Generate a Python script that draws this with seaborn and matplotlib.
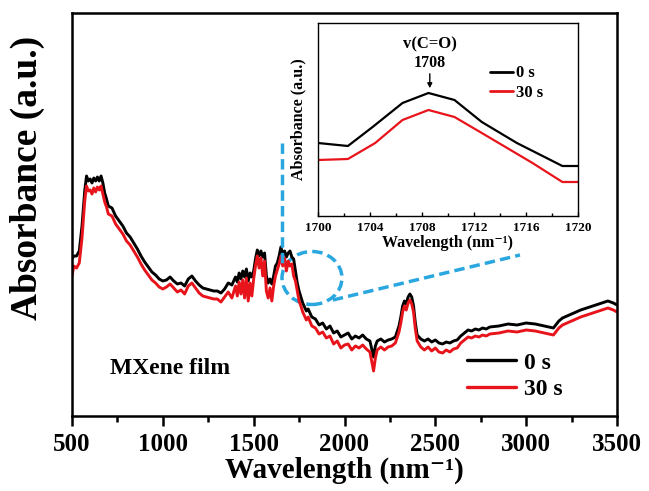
import numpy as np
import pandas as pd
import matplotlib
matplotlib.use("Agg")
import matplotlib.pyplot as plt
from matplotlib.patches import Ellipse
import seaborn as sns

# ---------------- data ----------------
wavelength = [500, 510, 525, 540, 555, 570, 580, 590, 600, 610, 620, 630, 640, 650, 660, 670, 680, 690, 700,
              720, 740, 760, 780, 800, 820, 840, 860, 880, 900, 920, 940, 960, 980, 1000, 1020, 1040, 1060, 1080,
              1100, 1120, 1140, 1160, 1180, 1200, 1220, 1240, 1260, 1280, 1300, 1320, 1340, 1360, 1380, 1400,
              1410, 1420, 1430, 1440, 1450, 1460, 1470, 1480, 1490, 1500, 1510, 1520, 1530, 1540, 1550, 1560,
              1570, 1580, 1590, 1600, 1610, 1620, 1630, 1640, 1650, 1660, 1670, 1680, 1690, 1700, 1710, 1720,
              1730, 1740, 1750, 1760, 1770, 1780, 1790, 1800, 1820, 1840, 1860, 1880, 1900, 1920, 1940, 1960,
              1980, 2000, 2020, 2040, 2060, 2080, 2100, 2120, 2140, 2160, 2170, 2180, 2200, 2220, 2240, 2260,
              2280, 2300, 2310, 2320, 2330, 2340, 2350, 2360, 2370, 2380, 2390, 2400, 2420, 2440, 2460, 2480,
              2500, 2520, 2540, 2560, 2580, 2600, 2620, 2640, 2660, 2680, 2700, 2720, 2740, 2760, 2780, 2800,
              2850, 2900, 2950, 3000, 3050, 3100, 3150, 3180, 3200, 3250, 3300, 3350, 3400, 3450, 3480, 3500]

abs_0s = [157, 160, 160, 165, 190, 225, 240, 235, 237, 233, 238, 235, 239, 235, 240, 233, 223, 217, 210,
          208, 200, 195, 190, 183, 179, 173, 167, 160, 154, 149, 144, 141, 137, 135, 136, 139, 135, 132,
          133, 130, 137, 140, 135, 131, 128, 127, 126, 125, 125, 123, 127, 133, 131, 139,
          134, 143, 137, 145, 139, 147, 135, 143, 139, 145, 157, 166, 160, 165, 159, 163,
          140, 133, 137, 132, 140, 150, 153, 160, 169, 161, 165, 159, 163, 165, 159, 157,
          145, 133, 125, 119, 113, 109, 105, 107, 99, 97, 91, 93, 87, 90, 83, 85,
          79, 81, 83, 77, 80, 78, 81, 77, 75, 59, 70, 75, 77, 74, 76, 77,
          79, 90, 99, 110, 115, 112, 119, 122, 119, 110, 93, 81, 77, 75, 77, 74,
          76, 73, 72, 74, 73, 75, 76, 80, 83, 86, 85, 87, 86, 88, 87, 89,
          90, 92, 91, 93, 92, 90, 88, 95, 98, 102, 106, 109, 112, 115, 113, 111]

abs_30s = [140, 150, 148, 153, 178, 215, 230, 225, 226, 222, 228, 224, 229, 226, 230, 222, 214, 209, 202,
           200, 192, 187, 182, 175, 171, 165, 159, 152, 146, 141, 136, 133, 129, 127, 129, 132, 128, 124,
           126, 122, 130, 133, 128, 123, 120, 119, 118, 117, 117, 114, 119, 124, 118, 130,
           120, 134, 122, 136, 118, 138, 115, 133, 120, 137, 150, 160, 148, 158, 140, 155,
           125, 118, 128, 115, 130, 140, 146, 152, 160, 150, 158, 145, 155, 150, 152, 140,
           135, 125, 115, 110, 104, 100, 96, 99, 90, 88, 82, 84, 78, 80, 72, 75,
           68, 71, 72, 66, 70, 68, 71, 67, 64, 45, 58, 66, 69, 66, 69, 70,
           73, 84, 93, 104, 110, 106, 113, 116, 112, 104, 87, 75, 69, 66, 69, 65,
           68, 64, 63, 66, 64, 67, 68, 73, 76, 79, 78, 80, 79, 81, 80, 82,
           83, 85, 84, 86, 85, 83, 81, 88, 91, 95, 99, 102, 105, 108, 106, 104]

inset_wl_0s = [1700, 1702.3, 1704.2, 1706.5, 1708.5, 1710.5, 1712.6, 1715.3, 1718.8, 1720]
inset_abs_0s = [73, 70, 89, 113, 123, 116, 94, 73, 50, 50]
inset_wl_30s = [1700, 1702.3, 1704.4, 1706.5, 1708.5, 1710.5, 1712.6, 1716.5, 1718.8, 1720]
inset_abs_30s = [56, 57, 73, 96, 106, 99, 83, 53, 34, 34]

main_xticks = [500, 1000, 1500, 2000, 2500, 3000, 3500]
inset_xticks = [1700, 1704, 1708, 1712, 1716, 1720]
series_labels = ["0 s", "30 s"]
series_colors = ["#000000", "#e8141b"]
guide_color = "#2aa7df"

# ---------------- style ----------------
sns.set_style("ticks")
plt.rcParams["font.family"] = ["Liberation Serif", "DejaVu Serif"]
plt.rcParams["font.weight"] = "bold"
plt.rcParams["axes.labelweight"] = "bold"
plt.rcParams["axes.edgecolor"] = "black"
plt.rcParams["axes.labelcolor"] = "black"
plt.rcParams["text.color"] = "black"
plt.rcParams["xtick.color"] = "black"
plt.rcParams["ytick.color"] = "black"

fig = plt.figure(figsize=(6.49, 4.91), dpi=100)
ax = fig.add_axes([72 / 649, 1 - 416 / 491, 545 / 649, 403 / 491])

df = pd.DataFrame({"wl": wavelength, "a0": abs_0s, "a30": abs_30s})
sns.lineplot(data=df, x="wl", y="a0", ax=ax, color=series_colors[0], lw=2.1, label=series_labels[0])
sns.lineplot(data=df, x="wl", y="a30", ax=ax, color=series_colors[1], lw=2.1, label=series_labels[1])

ax.set_xlim(500, 3500)
ax.set_ylim(0, 403)
ax.set_xticks(main_xticks)
ax.set_xticks([750, 1250, 1750, 2250, 2750, 3250], minor=True)
ax.set_yticks([])
ax.tick_params(axis="x", which="major", direction="out", length=7, width=1.8, labelsize=18, pad=5)
ax.tick_params(axis="x", which="minor", direction="out", length=4, width=1.8)
for s in ax.spines.values():
    s.set_linewidth(1.8)
ax.set_xlabel("Wavelength (nm\u207b\u00b9)", fontsize=21, fontweight="bold", labelpad=1)
ax.set_ylabel("Absorbance (a.u.)", fontsize=27, fontweight="bold")
ax.yaxis.set_label_coords(-0.05, 0.59)

ax.text(709, 47, "MXene film", fontsize=17, fontweight="bold", va="center", ha="left")

leg = ax.legend(loc="center left", bbox_to_anchor=(0.724, 0.099), frameon=False,
                prop={"size": 17, "weight": "bold"}, handlelength=2.1, handletextpad=0.35,
                labelspacing=0.2, borderpad=0, borderaxespad=0)
for h in leg.get_lines():
    h.set_linewidth(2.4)

# blue dashed guides
ax.plot([1655, 1655], [273, 152], ls=(0, (3, 1.5)), color=guide_color, lw=2.5)
ax.add_patch(Ellipse((1821, 138), 330, 53, fill=False, ls=(0, (3, 1.5)), ec=guide_color, lw=2.5))
ax.plot([1936, 2966], [116, 161], ls=(0, (3, 1.5)), color=guide_color, lw=2.5)

# ---------------- inset ----------------
ins = fig.add_axes([318 / 649, 1 - 216 / 491, 260 / 649, 193 / 491])
dfa = pd.DataFrame({"wl": inset_wl_0s, "a": inset_abs_0s})
dfb = pd.DataFrame({"wl": inset_wl_30s, "a": inset_abs_30s})
sns.lineplot(data=dfa, x="wl", y="a", ax=ins, color=series_colors[0], lw=1.6, label=series_labels[0])
sns.lineplot(data=dfb, x="wl", y="a", ax=ins, color=series_colors[1], lw=1.6, label=series_labels[1])
ins.set_xlim(1700, 1720)
ins.set_ylim(0, 193)
ins.set_xticks(inset_xticks)
ins.set_xticks([1702, 1706, 1710, 1714, 1718], minor=True)
ins.set_yticks([])
ins.tick_params(axis="x", which="major", direction="in", length=3, width=1, labelsize=9.5, pad=4)
ins.tick_params(axis="x", which="minor", direction="in", length=2, width=1)
for s in ins.spines.values():
    s.set_linewidth(1.0)
ins.set_xlabel("Wavelength (nm\u207b\u00b9)", fontsize=11.5, fontweight="bold", labelpad=1)
ins.set_ylabel("Absorbance (a.u.)", fontsize=11.5, fontweight="bold", labelpad=8)
ins.annotate("", xy=(1708.6, 125), xytext=(1708.6, 145),
             arrowprops=dict(arrowstyle="-|>", color="black", lw=1.0, mutation_scale=7))
ins.text(1708.6, 172, "v(C=O)", fontsize=12, fontweight="bold", ha="center", va="center")
ins.text(1708.6, 153, "1708", fontsize=11.5, fontweight="bold", ha="center", va="center")
ileg = ins.legend(loc="center left", bbox_to_anchor=(0.66, 0.689), frameon=False,
                  prop={"size": 12, "weight": "bold"}, handlelength=1.4, handletextpad=0.2,
                  labelspacing=0.2, borderpad=0, borderaxespad=0)
for h in ileg.get_lines():
    h.set_linewidth(2.0)

fig.savefig("out.png", dpi=100)
